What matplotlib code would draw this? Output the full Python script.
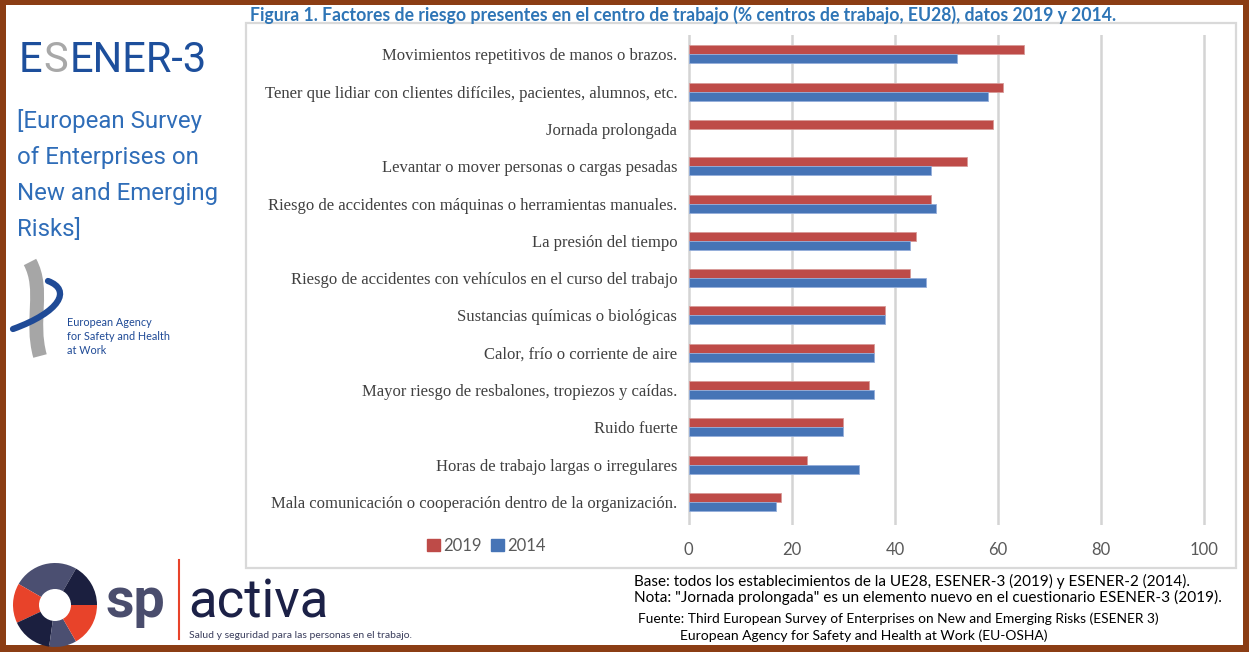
import matplotlib
matplotlib.use('Agg')
import matplotlib.pyplot as plt
import numpy as np
from matplotlib.patches import Rectangle, Wedge, Circle, PathPatch, Patch
from matplotlib.path import Path

# data (% of establishments)
categories = [
    "Movimientos repetitivos de manos o brazos.",
    "Tener que lidiar con clientes difíciles, pacientes, alumnos, etc.",
    "Jornada prolongada",
    "Levantar o mover personas o cargas pesadas",
    "Riesgo de accidentes con máquinas o herramientas manuales.",
    "La presión del tiempo",
    "Riesgo de accidentes con vehículos en el curso del trabajo",
    "Sustancias químicas o biológicas",
    "Calor, frío o corriente de aire",
    "Mayor riesgo de resbalones, tropiezos y caídas.",
    "Ruido fuerte",
    "Horas de trabajo largas o irregulares",
    "Mala comunicación o cooperación dentro de la organización.",
]
val_2019 = [65, 61, 59, 54, 47, 44, 43, 38, 36, 35, 30, 23, 18]
val_2014 = [52, 58, np.nan, 47, 48, 43, 46, 38, 36, 36, 30, 33, 17]
series_names = ["2019", "2014"]
xticks = [0, 20, 40, 60, 80, 100]

title = ("Figura 1. Factores de riesgo presentes en el centro de trabajo "
         "(% centros de trabajo, EU28), datos 2019 y 2014.")
notes = [
    "Base: todos los establecimientos de la UE28, ESENER-3 (2019) y ESENER-2 (2014).",
    'Nota: "Jornada prolongada" es un elemento nuevo en el cuestionario ESENER-3 (2019).',
]
source = [
    "Fuente: Third European Survey of Enterprises on New and Emerging Risks (ESENER 3)",
    "European Agency for Safety and Health at Work (EU-OSHA)",
]

RED = '#BE4B48'
BLUE = '#4674B6'
BROWN = '#8B3D14'
SANS = ['Lato', 'DejaVu Sans']

W, H = 1249, 652
fig = plt.figure(figsize=(W / 100, H / 100), dpi=100)
fig.patch.set_facecolor(BROWN)

# full-figure layer in pixel coordinates for frame, logos and notes
bg = fig.add_axes([0, 0, 1, 1], zorder=0)
bg.set_xlim(0, W)
bg.set_ylim(H, 0)
bg.axis('off')
bg.add_patch(Rectangle((6, 5), 1237, 640, facecolor='white', edgecolor='none'))
bg.add_patch(Rectangle((246, 23), 990, 545, fill=False, edgecolor='#D9D9D9', lw=1.6))
renderer = fig.canvas.get_renderer()

# --- ESENER-3 logo (pieces placed one after the other)
x = 19
for part, col in [("E", '#1D4F9C'), ("S", '#A8A8A8'), ("ENER-3", '#1D4F9C')]:
    t = bg.text(x, 72, part, fontsize=30, color=col, family='Roboto', va='baseline')
    bb = t.get_window_extent(renderer).transformed(bg.transData.inverted())
    x = bb.x1 + 1
for i, line in enumerate(["[European Survey", "of Enterprises on", "New and Emerging", "Risks]"]):
    bg.text(17, 128 + i * 36, line, fontsize=17.3, color='#2F6DB8', family='Roboto', va='baseline')

# --- EU-OSHA logo
gray_band = Path([(30, 262), (45, 290), (30, 320), (40, 356)],
                 [Path.MOVETO, Path.CURVE4, Path.CURVE4, Path.CURVE4])
bg.add_patch(PathPatch(gray_band, fill=False, edgecolor='#A6A6A6', lw=10, capstyle='butt'))
swirl = Path([(48, 281), (72, 290), (60, 312), (13, 329)],
             [Path.MOVETO, Path.CURVE4, Path.CURVE4, Path.CURVE4])
bg.add_patch(PathPatch(swirl, fill=False, edgecolor='#1F4A96', lw=4.5, capstyle='round'))
for i, line in enumerate(["European Agency", "for Safety and Health", "at Work"]):
    bg.text(67, 326 + i * 14, line, fontsize=7.8, color='#1F4A96', family=SANS, va='baseline')

# --- sp activa logo
cx, cy, r = 55, 605, 42
ring = [(60, 150, '#4B4F71'), (150, 205, '#E8432A'), (205, 262, '#1B1F3F'),
        (262, 300, '#4B4F71'), (300, 360, '#E8432A'), (0, 60, '#1B1F3F')]
for a0, a1, c in ring:
    bg.add_patch(Wedge((cx, cy), r, -a1, -a0, facecolor=c, edgecolor='none'))
bg.add_patch(Circle((cx, cy), 16, facecolor='white', edgecolor='none'))
bg.text(106, 617, "sp", fontsize=40, color='#4A4D6D', family='Roboto', fontweight='bold', va='baseline')
bg.plot([179, 179], [560, 639], color='#E8432A', lw=1.5)
bg.text(188, 617, "activa", fontsize=38, color='#1C2147', family='Roboto', va='baseline')
bg.text(189, 638, "Salud y seguridad para las personas en el trabajo.", fontsize=7.5,
        color='#3A3D5C', family=SANS, va='baseline')

# --- title and notes
bg.text(250, 15, title, fontsize=12.7, fontweight='bold', color='#2E75B6', family=SANS, va='center')
bg.text(634, 581, notes[0], fontsize=11, color='black', family=SANS, va='center')
bg.text(634, 597, notes[1], fontsize=11.1, color='black', family=SANS, va='center')
bg.text(638, 619, source[0], fontsize=9.9, color='black', family=SANS, va='center')
bg.text(680, 636, source[1], fontsize=10, color='black', family=SANS, va='center')

# --- bar chart
ax = fig.add_axes([687 / W, 1 - 525 / H, (1206 - 687) / W, (525 - 35) / H], zorder=1)
ax.patch.set_alpha(0)
y = np.arange(len(categories))
h = 0.24
b19 = np.array(val_2019, dtype=float)
b14 = np.array(val_2014, dtype=float)
ok = ~np.isnan(b14)
ax.barh(y - h / 2, b19, height=h, color=RED, edgecolor='#D89A98', lw=0.6)
ax.barh(y[ok] + h / 2, b14[ok], height=h, color=BLUE, edgecolor='#94AEDA', lw=0.6)

ax.set_xlim(-0.3, 100.3)
ax.set_ylim(12.62, -0.52)
ax.set_xticks(xticks)
ax.set_yticks(y)
ax.set_yticklabels(categories, family=['Liberation Serif', 'DejaVu Serif'], fontsize=12, color='#404040')
for lab in ax.get_xticklabels():
    lab.set_family(SANS)
ax.tick_params(axis='x', length=0, pad=12, labelsize=12, labelcolor='#595959')
ax.tick_params(axis='y', length=0, pad=7)
ax.grid(axis='x', color='#D4D4D4', lw=1.8)
ax.set_axisbelow(True)
for s in ax.spines.values():
    s.set_visible(False)

handles = [Patch(color=RED), Patch(color=BLUE)]
fig.legend(handles, series_names, loc='center left', bbox_to_anchor=(427 / W, 1 - 546 / H),
           ncol=2, frameon=False, handlelength=0.75, handleheight=0.75, handletextpad=0.2,
           columnspacing=0.6, borderpad=0, borderaxespad=0,
           prop={'family': SANS, 'size': 12}, labelcolor='#595959')

fig.savefig('out.png', dpi=100, facecolor=fig.get_facecolor())
